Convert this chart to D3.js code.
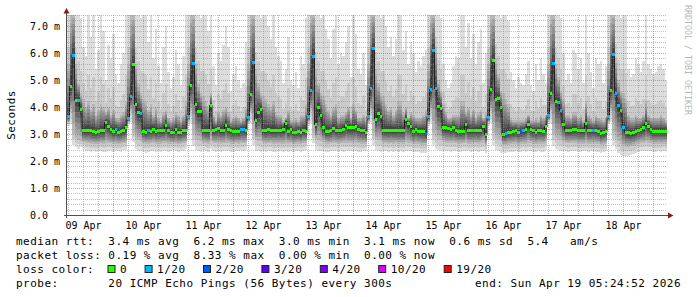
<!DOCTYPE html>
<html>
<head>
<meta charset="utf-8">
<script src="https://cdnjs.cloudflare.com/ajax/libs/d3/7.8.5/d3.min.js"></script>
<style>
  body { margin: 0; background: #fff; }
  svg { display: block; }
</style>
</head>
<body>
<div id="chart"></div>
<script>
// ---------------------------------------------------------------------------
// SmokePing style chart: 10 days, hourly steps, 20 pings per sample
// ---------------------------------------------------------------------------

// end of the graph (the picture says "end: Sun Apr 19 05:24:52 2026")
const endStamp = [2026, 3, 19, 5, 24, 52];
const spanDays = 10;

// median rtt per hour (ms), one row per day starting 09 Apr 05:25
const medianRtt = [
  3.65, 4.75, 5.90, 4.25, 4.25, 3.90, 3.12, 3.12, 3.14, 3.12, 3.08, 3.06, 3.08, 3.12, 3.12, 3.42, 3.27, 3.16, 3.10, 3.17, 3.06, 3.08, 3.14, 3.22,
  3.57, 4.40, 5.58, 4.08, 3.78, 3.77, 3.10, 3.06, 3.12, 3.10, 3.17, 3.10, 3.12, 3.14, 3.14, 3.30, 3.14, 3.06, 3.06, 3.16, 3.06, 3.06, 3.12, 3.12,
  3.65, 4.78, 5.60, 4.08, 3.83, 3.83, 3.12, 3.12, 3.12, 4.06, 3.14, 3.16, 3.19, 3.14, 3.14, 3.33, 3.17, 3.12, 3.10, 3.10, 3.10, 3.16, 3.17, 3.12,
  3.60, 4.45, 5.66, 3.50, 3.78, 3.90, 3.14, 3.14, 3.16, 3.14, 3.14, 3.14, 3.14, 3.14, 3.16, 3.40, 3.10, 3.17, 3.06, 3.06, 3.10, 3.04, 3.14, 3.10,
  3.65, 4.60, 5.87, 3.34, 3.98, 3.68, 3.22, 3.10, 3.10, 3.12, 3.20, 3.14, 3.12, 3.12, 3.17, 3.30, 3.24, 3.22, 3.22, 3.28, 3.17, 3.14, 3.12, 3.06,
  3.65, 4.67, 6.15, 3.55, 3.75, 3.65, 3.14, 3.14, 3.14, 3.14, 3.14, 3.12, 3.12, 3.12, 3.12, 3.52, 3.37, 3.26, 3.10, 3.16, 3.10, 3.10, 3.10, 3.01,
  3.63, 4.63, 6.09, 4.67, 4.00, 3.93, 3.22, 3.22, 3.20, 3.16, 3.24, 3.12, 3.10, 3.10, 3.10, 3.36, 3.12, 3.12, 3.12, 3.14, 3.12, 3.14, 3.28, 2.98,
  3.60, 4.63, 5.72, 4.29, 4.30, 3.96, 2.98, 3.01, 3.06, 3.06, 3.10, 3.14, 3.05, 3.10, 3.12, 3.16, 3.36, 3.18, 3.14, 3.06, 3.12, 3.12, 3.10, 3.26,
  3.68, 4.51, 5.60, 4.20, 4.17, 3.87, 3.34, 3.14, 3.14, 3.14, 3.16, 3.17, 3.12, 3.12, 3.12, 3.40, 3.12, 3.12, 3.14, 3.12, 3.10, 3.01, 3.06, 3.10,
  3.63, 4.60, 5.93, 4.49, 4.04, 3.86, 3.22, 3.06, 3.04, 3.01, 3.04, 3.08, 3.12, 3.18, 3.22, 3.38, 3.26, 3.16, 3.10, 3.10, 3.10, 3.10, 3.10, 3.10
];

// lost pings out of 20 per hour
const lossCount = [
  1, 0, 1, 0, 1, 0, 0, 0, 0, 0, 0, 0, 0, 0, 0, 0, 0, 0, 0, 1, 0, 0, 0, 0,
  1, 1, 0, 0, 0, 1, 0, 0, 1, 0, 0, 0, 0, 0, 0, 0, 0, 0, 0, 0, 0, 0, 0, 0,
  1, 0, 1, 0, 0, 0, 0, 0, 0, 0, 0, 0, 0, 0, 0, 0, 0, 0, 0, 0, 0, 1, 1, 0,
  1, 0, 1, 0, 0, 0, 0, 0, 0, 0, 0, 0, 0, 0, 0, 0, 0, 0, 0, 0, 0, 0, 0, 0,
  1, 1, 1, 0, 0, 0, 0, 0, 0, 0, 0, 0, 0, 0, 0, 0, 0, 0, 0, 0, 0, 0, 0, 0,
  1, 1, 1, 0, 0, 0, 0, 0, 0, 0, 0, 0, 0, 0, 0, 0, 0, 0, 0, 0, 0, 0, 0, 2,
  1, 1, 1, 1, 0, 0, 0, 0, 0, 0, 0, 0, 0, 0, 0, 0, 0, 0, 0, 0, 0, 0, 0, 0,
  1, 0, 0, 0, 0, 0, 0, 1, 0, 0, 0, 0, 0, 2, 1, 0, 0, 0, 0, 0, 0, 0, 0, 0,
  1, 0, 1, 0, 1, 1, 0, 0, 0, 0, 0, 0, 0, 0, 0, 0, 0, 0, 1, 0, 0, 0, 0, 0,
  1, 0, 1, 1, 1, 0, 1, 0, 0, 0, 0, 0, 0, 0, 0, 0, 0, 0, 0, 0, 0, 0, 0, 0
];

// smoke: fastest ping (ping 1 of 20)
const minRtt = [
  3.30, 3.35, 2.60, 2.50, 2.45, 2.50, 2.45, 2.38, 2.36, 2.34, 2.36, 2.33, 2.35, 2.38, 2.32, 2.34, 2.36, 2.40, 2.33, 2.35, 2.37, 2.34, 2.40, 2.42,
  3.35, 3.45, 2.70, 2.45, 2.38, 2.36, 2.33, 2.30, 2.34, 2.36, 2.35, 2.32, 2.36, 2.33, 2.38, 2.35, 2.34, 2.37, 2.40, 2.36, 2.33, 2.35, 2.38, 2.45,
  3.30, 3.40, 2.55, 2.40, 2.36, 2.34, 2.40, 2.35, 2.33, 2.45, 2.37, 2.34, 2.36, 2.33, 2.35, 2.38, 2.36, 2.33, 2.34, 2.37, 2.35, 2.40, 2.36, 2.42,
  3.35, 3.40, 2.60, 2.38, 2.35, 2.34, 2.36, 2.33, 2.35, 2.36, 2.34, 2.33, 2.37, 2.35, 2.33, 2.36, 2.34, 2.38, 2.33, 2.35, 2.36, 2.32, 2.37, 2.40,
  3.30, 3.40, 2.65, 2.42, 2.38, 2.35, 2.36, 2.33, 2.34, 2.36, 2.38, 2.35, 2.33, 2.36, 2.34, 2.37, 2.35, 2.36, 2.38, 2.36, 2.34, 2.33, 2.35, 2.38,
  3.35, 3.45, 2.60, 2.40, 2.36, 2.34, 2.35, 2.36, 2.33, 2.35, 2.34, 2.36, 2.33, 2.35, 2.34, 2.38, 2.36, 2.35, 2.33, 2.34, 2.32, 2.30, 2.28, 2.30,
  3.30, 3.40, 2.60, 2.45, 2.40, 2.36, 2.38, 2.36, 2.35, 2.34, 2.37, 2.35, 2.33, 2.34, 2.36, 2.38, 2.35, 2.34, 2.36, 2.35, 2.34, 2.36, 2.38, 2.30,
  3.30, 3.40, 2.60, 2.42, 2.36, 2.30, 2.28, 2.30, 2.32, 2.34, 2.33, 2.35, 2.32, 2.34, 2.36, 2.33, 2.38, 2.35, 2.34, 2.33, 2.35, 2.34, 2.33, 2.40,
  3.35, 3.40, 2.55, 2.45, 2.40, 2.36, 2.38, 2.35, 2.34, 2.36, 2.35, 2.37, 2.34, 2.33, 2.35, 2.38, 2.34, 2.35, 2.36, 2.34, 2.33, 2.30, 2.32, 2.35,
  3.35, 3.45, 2.60, 2.45, 2.30, 2.22, 2.20, 2.18, 2.20, 2.22, 2.26, 2.30, 2.34, 2.36, 2.35, 2.38, 2.36, 2.35, 2.34, 2.33, 2.35, 2.34, 2.36, 2.35
];

// smoke: ping 3 of 20
const lowRtt = [
  3.45, 3.80, 3.00, 2.85, 2.78, 2.75, 2.70, 2.66, 2.65, 2.64, 2.63, 2.62, 2.63, 2.65, 2.64, 2.68, 2.66, 2.65, 2.63, 2.64, 2.62, 2.63, 2.65, 2.68,
  3.45, 3.85, 3.05, 2.82, 2.76, 2.72, 2.66, 2.63, 2.64, 2.65, 2.66, 2.63, 2.64, 2.63, 2.66, 2.65, 2.64, 2.63, 2.65, 2.64, 2.62, 2.63, 2.65, 2.70,
  3.48, 3.85, 3.00, 2.80, 2.76, 2.74, 2.68, 2.65, 2.64, 2.75, 2.66, 2.65, 2.66, 2.64, 2.65, 2.67, 2.66, 2.64, 2.63, 2.65, 2.64, 2.66, 2.65, 2.68,
  3.45, 3.80, 3.05, 2.78, 2.74, 2.72, 2.66, 2.64, 2.65, 2.66, 2.64, 2.63, 2.65, 2.64, 2.63, 2.66, 2.64, 2.65, 2.62, 2.63, 2.64, 2.62, 2.65, 2.67,
  3.47, 3.85, 3.05, 2.80, 2.78, 2.74, 2.70, 2.64, 2.63, 2.65, 2.67, 2.65, 2.64, 2.65, 2.66, 2.68, 2.67, 2.66, 2.67, 2.68, 2.65, 2.64, 2.63, 2.64,
  3.47, 3.85, 3.05, 2.80, 2.76, 2.73, 2.66, 2.65, 2.64, 2.65, 2.64, 2.66, 2.64, 2.65, 2.64, 2.70, 2.68, 2.66, 2.63, 2.64, 2.62, 2.60, 2.58, 2.60,
  3.45, 3.85, 3.05, 2.88, 2.80, 2.76, 2.70, 2.68, 2.67, 2.66, 2.68, 2.65, 2.64, 2.64, 2.65, 2.68, 2.64, 2.64, 2.65, 2.65, 2.64, 2.66, 2.68, 2.58,
  3.45, 3.85, 3.05, 2.85, 2.80, 2.72, 2.58, 2.58, 2.60, 2.62, 2.62, 2.64, 2.60, 2.62, 2.64, 2.64, 2.68, 2.65, 2.64, 2.62, 2.64, 2.63, 2.62, 2.68,
  3.50, 3.85, 3.00, 2.85, 2.80, 2.76, 2.70, 2.66, 2.65, 2.66, 2.66, 2.67, 2.64, 2.63, 2.64, 2.68, 2.64, 2.64, 2.65, 2.64, 2.62, 2.58, 2.60, 2.63,
  3.47, 3.85, 3.05, 2.85, 2.72, 2.62, 2.55, 2.52, 2.52, 2.54, 2.57, 2.60, 2.63, 2.66, 2.67, 2.70, 2.68, 2.66, 2.64, 2.63, 2.64, 2.63, 2.64, 2.64
];

// smoke: ping 18 of 20
const highRtt = [
  5.6, 7.5, 7.5, 5.6, 4.9, 4.5, 4.3, 4.0, 4.2, 3.9, 4.1, 3.7, 3.9, 4.1, 4.0, 3.8, 4.0, 3.7, 3.9, 3.6, 3.6, 3.7, 3.8, 4.2,
  5.6, 7.5, 7.5, 5.6, 4.9, 4.5, 4.3, 4.2, 3.9, 4.1, 3.7, 4.0, 3.6, 3.5, 3.8, 3.9, 3.6, 3.5, 3.6, 3.8, 3.7, 3.5, 3.7, 4.2,
  5.6, 7.5, 7.5, 5.6, 4.9, 4.5, 4.4, 4.2, 4.0, 4.5, 3.7, 3.5, 3.8, 3.7, 3.9, 4.0, 3.8, 3.5, 3.6, 3.7, 3.6, 3.5, 3.6, 4.0,
  5.6, 7.5, 7.5, 5.4, 4.9, 4.5, 4.4, 4.3, 4.1, 4.0, 4.2, 3.8, 3.7, 3.7, 3.5, 3.6, 3.9, 3.5, 3.5, 3.6, 3.5, 3.7, 3.7, 4.1,
  5.6, 7.5, 7.5, 5.4, 4.9, 4.5, 4.4, 4.1, 3.9, 3.7, 4.0, 4.1, 3.6, 3.7, 3.7, 3.8, 4.0, 3.6, 4.1, 3.9, 3.6, 3.6, 3.7, 3.5,
  5.6, 7.5, 7.5, 5.4, 4.9, 4.5, 4.4, 4.1, 3.9, 4.0, 3.7, 3.9, 4.2, 4.2, 3.8, 4.0, 3.6, 3.8, 3.7, 3.6, 3.6, 3.6, 3.7, 3.9,
  5.6, 7.5, 7.5, 6.2, 5.0, 4.6, 4.1, 3.8, 3.6, 3.6, 3.7, 3.7, 3.7, 4.2, 4.2, 3.8, 4.0, 3.7, 3.9, 3.6, 3.8, 3.9, 3.6, 3.8,
  5.6, 7.5, 7.5, 5.8, 5.2, 4.6, 4.5, 4.3, 4.1, 3.6, 3.5, 3.5, 3.5, 3.5, 3.5, 3.6, 3.7, 3.5, 3.5, 3.6, 3.5, 3.7, 3.6, 3.7,
  5.6, 7.5, 7.5, 5.6, 5.1, 4.6, 4.3, 3.7, 3.7, 3.6, 3.8, 3.8, 3.6, 3.7, 3.5, 4.2, 3.7, 3.6, 3.5, 3.7, 3.6, 3.6, 3.5, 3.6,
  5.6, 7.5, 7.5, 5.8, 5.0, 4.6, 4.5, 4.3, 3.7, 3.6, 3.6, 3.7, 3.6, 3.6, 3.7, 4.2, 3.7, 3.6, 3.6, 3.6, 3.6, 3.7, 3.6, 3.5
];

// smoke: slowest ping (ping 20 of 20)
const maxRtt = [
  7.5, 7.5, 7.5, 7.5, 7.5, 7.3, 6.2, 5.9, 7.5, 6.6, 7.5, 5.4, 6.1, 7.5, 6.8, 5.0, 6.3, 5.8, 6.7, 5.2, 4.9, 5.6, 6.0, 7.5,
  7.5, 7.5, 7.5, 7.5, 7.5, 7.3, 7.5, 7.5, 6.4, 7.5, 5.8, 6.9, 5.5, 4.9, 6.2, 7.0, 5.3, 4.7, 5.1, 6.1, 5.6, 4.8, 5.9, 7.5,
  7.5, 7.5, 7.5, 7.5, 7.5, 7.3, 7.5, 7.5, 6.8, 7.5, 5.5, 4.8, 6.0, 5.7, 6.3, 7.0, 6.2, 4.6, 5.2, 5.5, 5.0, 4.7, 4.9, 6.4,
  7.5, 7.5, 7.5, 7.5, 7.5, 7.3, 7.5, 7.5, 7.0, 6.5, 7.5, 6.2, 5.9, 5.7, 4.9, 5.4, 6.6, 5.0, 4.8, 5.3, 4.7, 5.9, 5.6, 7.3,
  7.5, 7.5, 7.5, 7.5, 7.5, 7.3, 7.5, 6.9, 6.5, 5.8, 6.9, 7.5, 5.6, 6.0, 5.9, 6.4, 7.0, 5.1, 7.5, 6.7, 5.4, 5.2, 6.0, 4.8,
  7.5, 7.5, 7.5, 7.5, 7.5, 7.3, 7.5, 7.0, 6.2, 6.6, 5.9, 6.5, 7.5, 7.5, 6.1, 6.8, 5.6, 6.4, 6.0, 5.3, 5.7, 5.5, 5.9, 6.1,
  7.5, 7.5, 7.5, 7.5, 7.5, 7.3, 5.6, 5.0, 4.7, 4.9, 5.5, 5.9, 5.8, 7.5, 7.5, 6.2, 7.1, 5.8, 6.7, 5.6, 6.4, 6.9, 4.9, 6.0,
  7.5, 7.5, 7.5, 7.5, 7.5, 7.3, 7.5, 7.5, 7.2, 5.3, 5.0, 4.7, 5.1, 4.9, 4.8, 5.2, 5.7, 4.8, 4.6, 5.6, 5.0, 5.8, 5.2, 4.9,
  7.5, 7.5, 7.5, 7.5, 7.5, 7.3, 6.0, 5.0, 5.2, 4.9, 6.1, 6.0, 5.4, 5.8, 4.9, 7.5, 6.0, 5.3, 4.7, 5.8, 5.6, 5.7, 4.9, 5.5,
  7.5, 7.5, 7.5, 7.5, 7.5, 7.3, 7.5, 7.5, 5.4, 5.1, 5.2, 5.8, 5.6, 5.3, 5.7, 7.5, 5.6, 5.4, 5.2, 5.3, 5.5, 5.6, 5.4, 5.0
];

// legend texts
const rttStats = ['3.4 ms avg', '6.2 ms max', '3.0 ms min', '3.1 ms now', '0.6 ms sd', '5.4   am/s'];
const lossStats = ['0.19 % avg', '8.33 % max', '0.00 % min', '0.00 % now'];
const lossLabels = ['0', '1/20', '2/20', '3/20', '4/20', '10/20', '19/20'];
const lossThresholds = [1, 2, 3, 4, 10, 19];
const lossColors = ['#26ff00', '#00b8ff', '#0059ff', '#5e00ff', '#7e00ff', '#dd00ff', '#ff0000'];
const probeText = '20 ICMP Echo Pings (56 Bytes) every 300s';
const endText = 'end: Sun Apr 19 05:24:52 2026';

// ---------------------------------------------------------------------------
const W = 697, H = 297;
const plot = { left: 67, right: 667, top: 15, bottom: 215 };
const mono = '"DejaVu Sans Mono", monospace';
// keep runs of spaces in svg text
const keepSpaces = s => s.replace(/ /g, '\u00a0');

const endTime = new Date(Date.UTC(...endStamp));
const startTime = d3.utcDay.offset(endTime, -spanDays);

const x = d3.scaleUtc().domain([startTime, endTime]).range([plot.left, plot.right]);
const y = d3.scaleLinear().domain([0, 7.4]).range([plot.bottom, plot.top]);
const lossColor = d3.scaleThreshold().domain(lossThresholds).range(lossColors);

const svg = d3.select('#chart').append('svg')
  .attr('width', W).attr('height', H)
  .style('background', '#fff');

svg.append('clipPath').attr('id', 'clip')
  .append('rect')
  .attr('x', plot.left).attr('y', plot.top)
  .attr('width', plot.right - plot.left).attr('height', plot.bottom - plot.top);

// the 20 sorted pings of a step, from the read anchor values
const anchorRanks = [1, 3, 10, 11, 18];
function sortedPings(i) {
  const m = medianRtt[i];
  const rank = d3.scaleLinear().domain(anchorRanks)
    .range([minRtt[i], lowRtt[i], m - 0.04, m + 0.04, highRtt[i]]);
  const p = d3.range(1, 19).map(r => rank(r));
  p.push(highRtt[i] + 0.3 * (maxRtt[i] - highRtt[i]));   // ping 19
  p.push(maxRtt[i]);                                     // ping 20
  return p;
}

const steps = medianRtt.map((m, i) => ({
  t: d3.utcHour.offset(startTime, i),
  median: m,
  loss: lossCount[i],
  pings: sortedPings(i)
}));
const stepsEnd = steps.concat([{ ...steps[steps.length - 1], t: endTime }]);

const g = svg.append('g').attr('clip-path', 'url(#clip)');

// smoke bands, lightest (outer pings) first
for (let k = 1; k <= 10; k++) {
  const shade = Math.floor(190 / 10 * (10 - k)) + 50;
  const band = d3.area()
    .curve(d3.curveStepAfter)
    .x(d => x(d.t))
    .y0(d => y(d.pings[k - 1]))
    .y1(d => y(d.pings[20 - k]));
  g.append('path')
    .datum(stepsEnd)
    .attr('d', band)
    .attr('fill', d3.rgb(shade, shade, shade))
    .attr('shape-rendering', 'crispEdges');
}

// median line
const medianLine = d3.line()
  .curve(d3.curveStepAfter)
  .x(d => x(d.t))
  .y(d => y(d.median));
g.append('path')
  .datum(stepsEnd)
  .attr('d', medianLine)
  .attr('fill', 'none')
  .attr('stroke', '#202020')
  .attr('stroke-width', 1);

// loss coloured median marks
g.selectAll('rect.loss')
  .data(steps)
  .enter().append('rect')
  .attr('class', 'loss')
  .attr('x', d => x(d.t))
  .attr('width', d => x(d3.utcHour.offset(d.t, 1)) - x(d.t))
  .attr('y', d => y(d.median) - 1.5)
  .attr('height', 3)
  .attr('fill', d => lossColor(d.loss))
  .attr('shape-rendering', 'crispEdges');

// grid (drawn over the smoke like rrdtool)
const grid = svg.append('g').attr('fill', 'none').attr('stroke-dasharray', '1,1');
const minorVals = d3.range(1, 38).filter(v => v % 5 !== 0).map(v => v / 5);
const majorVals = d3.range(1, 8);
grid.selectAll('line.hmin').data(minorVals).enter().append('line')
  .attr('x1', plot.left).attr('x2', plot.right)
  .attr('y1', d => Math.round(y(d)) + 0.5).attr('y2', d => Math.round(y(d)) + 0.5)
  .attr('stroke', 'rgba(140,140,140,0.55)');
const hours6 = d3.utcHour.every(6).range(startTime, endTime).filter(t => t.getUTCHours() !== 0);
grid.selectAll('line.vmin').data(hours6).enter().append('line')
  .attr('x1', d => Math.round(x(d)) + 0.5).attr('x2', d => Math.round(x(d)) + 0.5)
  .attr('y1', plot.top).attr('y2', plot.bottom)
  .attr('stroke', 'rgba(140,140,140,0.55)');
grid.selectAll('line.hmaj').data(majorVals).enter().append('line')
  .attr('x1', plot.left).attr('x2', plot.right)
  .attr('y1', d => Math.round(y(d)) + 0.5).attr('y2', d => Math.round(y(d)) + 0.5)
  .attr('stroke', 'rgba(230,60,60,0.55)');
const days = d3.utcDay.range(startTime, endTime);
grid.selectAll('line.vmaj').data(days).enter().append('line')
  .attr('x1', d => Math.round(x(d)) + 0.5).attr('x2', d => Math.round(x(d)) + 0.5)
  .attr('y1', plot.top).attr('y2', plot.bottom)
  .attr('stroke', 'rgba(230,60,60,0.55)');

// axes with arrows
const axisCol = '#505050', arrowCol = '#8b1a1a';
svg.append('line')
  .attr('x1', plot.left - 0.5).attr('x2', plot.left - 0.5)
  .attr('y1', plot.bottom + 3).attr('y2', 10)
  .attr('stroke', axisCol);
svg.append('line')
  .attr('x1', plot.left - 3).attr('x2', plot.right + 3)
  .attr('y1', plot.bottom + 0.5).attr('y2', plot.bottom + 0.5)
  .attr('stroke', axisCol);
svg.append('path')
  .attr('d', `M${plot.left - 3.5},13.5 L${plot.left - 0.5},8 L${plot.left + 2.5},13.5 Z`)
  .attr('fill', arrowCol);
svg.append('path')
  .attr('d', `M${plot.right + 1},${plot.bottom - 2.5} L${plot.right + 6.5},${plot.bottom + 0.5} L${plot.right + 1},${plot.bottom + 3.5} Z`)
  .attr('fill', arrowCol);

// y tick labels
const fmtY = d3.format('.1f');
svg.append('g').selectAll('text').data(d3.range(0, 8)).enter().append('text')
  .attr('x', 30).attr('y', d => y(d) + 4)
  .attr('font-family', mono).attr('font-size', 10)
  .attr('fill', '#000')
  .text(d => d === 0 ? fmtY(d) : keepSpaces(`${fmtY(d)} m`));

// x labels at noon of each day
const fmtX = d3.utcFormat('%d %b');
const noons = d3.utcDay.range(d3.utcDay.floor(startTime), endTime)
  .map(d => d3.utcHour.offset(d, 12))
  .filter(d => d >= startTime && d <= endTime);
svg.append('g').selectAll('text').data(noons).enter().append('text')
  .attr('x', d => x(d)).attr('y', 229)
  .attr('text-anchor', 'middle')
  .attr('font-family', mono).attr('font-size', 10)
  .text(d => keepSpaces(fmtX(d)));

// y axis title
svg.append('text')
  .attr('transform', 'translate(15,115) rotate(-90)')
  .attr('text-anchor', 'middle')
  .attr('font-family', mono).attr('font-size', 11).attr('letter-spacing', 0.48)
  .text('Seconds');

// watermark
svg.append('text')
  .attr('transform', 'translate(684.5,5) rotate(90)')
  .attr('font-family', mono).attr('font-size', 8.3)
  .attr('fill', '#b8b8b8')
  .text(keepSpaces('RRDTOOL / TOBI OETIKER'));

// legend
const legend = svg.append('g')
  .attr('font-family', mono).attr('font-size', 11).attr('letter-spacing', 0.48);
legend.append('text').attr('x', 16).attr('y', 245)
  .text(keepSpaces('median rtt:  ' + rttStats.join('  ')));
legend.append('text').attr('x', 16).attr('y', 259)
  .text(keepSpaces('packet loss: ' + lossStats.join('  ')));
legend.append('text').attr('x', 16).attr('y', 273).text(keepSpaces('loss color:'));
legend.append('text').attr('x', 16).attr('y', 287).text(keepSpaces('probe:       ' + probeText));
legend.append('text').attr('x', 681).attr('y', 287).attr('text-anchor', 'end').text(keepSpaces(endText));

const charW = 7.1;
let cx = 107.5;
lossLabels.forEach((lab, i) => {
  legend.append('rect')
    .attr('x', cx + 0.5).attr('y', 265.5).attr('width', 7).attr('height', 7)
    .attr('fill', lossColors[i]).attr('stroke', '#222');
  legend.append('text').attr('x', cx + 12.5).attr('y', 273).text(lab);
  cx += 12.5 + lab.length * charW + 17.5;
});
</script>
</body>
</html>
